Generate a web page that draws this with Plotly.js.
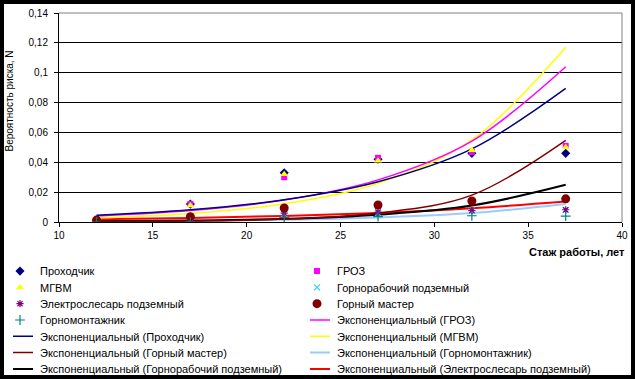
<!DOCTYPE html>
<html><head><meta charset="utf-8">
<script src="https://cdn.plot.ly/plotly-3.0.1.min.js"></script>
<style>
html,body{margin:0;padding:0;background:#fff;}
#wrap{position:relative;width:635px;height:379px;overflow:hidden;}
#chart{position:absolute;left:0;top:0;width:635px;height:379px;}
#frame{position:absolute;left:0;top:0;width:635px;height:379px;box-sizing:border-box;border:4px solid #000;pointer-events:none;}
</style></head>
<body>
<div id="wrap"><div id="chart"></div><div id="frame"></div></div>
<script>
// ---- data ----
const xYears = [12, 17, 22, 27, 32, 37];
const trendX = [12, 17, 22, 27, 32, 37];

const prokhodchik   = [0.001, 0.012, 0.033, 0.042, 0.046, 0.046];
const groz          = [0.001, 0.012, 0.030, 0.043, 0.047, 0.051];
const mgvm          = [0.001, 0.011, 0.032, 0.041, 0.048, 0.050];
const gornorabochiy = [0.000, 0.000, 0.0054, 0.006, 0.0076, 0.008];
const elektroslesar = [0.0005, 0.0005, 0.006, 0.0067, 0.0076, 0.0082];
const gornyMaster   = [0.0013, 0.0036, 0.0094, 0.0114, 0.0141, 0.0155];
const gornomontazh  = [0.000, 0.000, 0.003, 0.0036, 0.0042, 0.004];

const trendProkhodchik   = [0.0045, 0.0082, 0.0149, 0.027, 0.049, 0.0895];
const trendGroz          = [0.0040, 0.0077, 0.0147, 0.0282, 0.0542, 0.104];
const trendMgvm          = [0.0027, 0.0057, 0.0122, 0.026, 0.055, 0.117];
const trendGornyMaster   = [0.0002, 0.0007, 0.002, 0.006, 0.018, 0.0547];
const trendGornorabochiy = [0.00042, 0.00095, 0.0021, 0.0049, 0.011, 0.0249];
const trendElektroslesar = [0.0018, 0.0027, 0.0041, 0.0061, 0.0092, 0.0137];
const trendGornomontazh  = [0.0004, 0.0008, 0.0015, 0.003, 0.006, 0.0121];

const xTickVals = [10, 15, 20, 25, 30, 35, 40];
const yTickVals = [0, 0.02, 0.04, 0.06, 0.08, 0.1, 0.12, 0.14];
const xTitle = 'Стаж работы, лет';
const yTitle = 'Вероятность риска, N';

// ---- traces ----
function tr(name, y, color, width, rank) {
  return {x: trendX, y: y, type: 'scatter', mode: 'lines', name: name,
    line: {color: color, width: width, shape: 'spline', smoothing: 1}, legendrank: rank};
}
function mk(name, y, symbol, color, size, rank, lw) {
  return {x: xYears, y: y, type: 'scatter', mode: 'markers', name: name,
    marker: {symbol: symbol, color: color, size: size, line: {color: color, width: lw || 0}}, legendrank: rank};
}
const data = [
  tr('Экспоненциальный (Горномонтажник)', trendGornomontazh, '#99CCFF', 2, 12),
  tr('Экспоненциальный (Электрослесарь подземный)', trendElektroslesar, '#FF0000', 2, 14),
  tr('Экспоненциальный (Горнорабочий подземный)', trendGornorabochiy, '#000000', 2, 13),
  tr('Экспоненциальный (Горный мастер)', trendGornyMaster, '#800000', 1.5, 11),
  tr('Экспоненциальный (МГВМ)', trendMgvm, '#FFFF00', 1.5, 10),
  tr('Экспоненциальный (ГРОЗ)', trendGroz, '#FF00FF', 1.5, 8),
  tr('Экспоненциальный (Проходчик)', trendProkhodchik, '#000080', 1.5, 9),
  mk('Проходчик', prokhodchik, 'diamond', '#000080', 7, 1),
  mk('ГРОЗ', groz, 'square', '#FF00FF', 6, 2),
  mk('МГВМ', mgvm, 'triangle-up', '#FFFF00', 7, 3),
  mk('Горнорабочий подземный', gornorabochiy, 'x-thin-open', '#33CCFF', 6, 4, 1.2),
  mk('Электрослесарь подземный', elektroslesar, 'asterisk-open', '#800080', 6, 5, 1.2),
  mk('Горный мастер', gornyMaster, 'circle', '#800000', 9, 6),
  mk('Горномонтажник', gornomontazh, 'cross-thin-open', '#008080', 7, 7, 1.2)
];

const FONT = '"Liberation Sans", Arial, sans-serif';
const layout = {
  width: 635, height: 379,
  margin: {l: 59, r: 13, t: 13, b: 157, autoexpand: false},
  paper_bgcolor: '#fff', plot_bgcolor: '#fff',
  separators: ', ',
  font: {family: FONT, size: 10, color: '#000'},
  showlegend: true,
  xaxis: {range: [10, 40], tickvals: xTickVals, ticks: 'outside', ticklen: 4, tickcolor: '#000',
    showline: true, linecolor: '#000', linewidth: 1, showgrid: false, zeroline: false,
    tickfont: {size: 10}, fixedrange: true},
  yaxis: {range: [0, 0.14], tickvals: yTickVals, ticks: 'outside', ticklen: 4, tickcolor: '#000',
    ticklabelstandoff: 4,
    showline: true, linecolor: '#000', linewidth: 1, showgrid: true, gridcolor: '#000', gridwidth: 1,
    zeroline: false, tickfont: {size: 10}, fixedrange: true},
  legend: {orientation: 'h', x: -0.1048, xanchor: 'left', y: -0.1655, yanchor: 'top',
    entrywidth: 252, entrywidthmode: 'pixels', font: {size: 11, family: FONT},
    bgcolor: 'rgba(0,0,0,0)', borderwidth: 0, traceorder: 'normal', itemclick: false},
  shapes: [
    {type: 'line', xref: 'paper', yref: 'paper', x0: 0, x1: 1, y0: 1, y1: 1, line: {color: '#808080', width: 1}},
    {type: 'line', xref: 'paper', yref: 'paper', x0: 1, x1: 1, y0: 0, y1: 1, line: {color: '#808080', width: 1}}
  ],
  annotations: [
    {text: '<b>' + xTitle + '</b>', xref: 'paper', yref: 'paper', x: 1.008, y: -0.1435,
      xanchor: 'right', yanchor: 'middle', showarrow: false, font: {size: 11}},
    {text: yTitle, xref: 'paper', yref: 'paper', x: -0.0875, y: 0.58, xanchor: 'center', yanchor: 'middle',
      textangle: -90, showarrow: false, font: {size: 10}}
  ]
};

Plotly.newPlot('chart', data, layout, {staticPlot: true, displayModeBar: false}).then(function (gd) {
  // tighten legend row spacing and symbol line length to match the source
  const items = Array.from(gd.querySelectorAll('.legend .traces'));
  const ys = [];
  items.forEach(function (n) {
    const m = /translate\(\s*([-\d.e]+)[ ,]+([-\d.e]+)\s*\)/.exec(n.getAttribute('transform') || '');
    if (m) { n._tx = parseFloat(m[1]); n._ty = parseFloat(m[2]); if (ys.indexOf(n._ty) < 0) ys.push(n._ty); }
  });
  ys.sort(function (a, b) { return a - b; });
  const rowGap = 16.3;
  items.forEach(function (n) {
    if (n._ty === undefined) return;
    const r = ys.indexOf(n._ty);
    n.setAttribute('transform', 'translate(' + n._tx + ',' + (ys[0] + r * rowGap) + ')');
  });
  gd.querySelectorAll('.legend .legendlines path').forEach(function (p) {
    p.setAttribute('d', 'M13,0h20');
  });
});
</script>
</body></html>
